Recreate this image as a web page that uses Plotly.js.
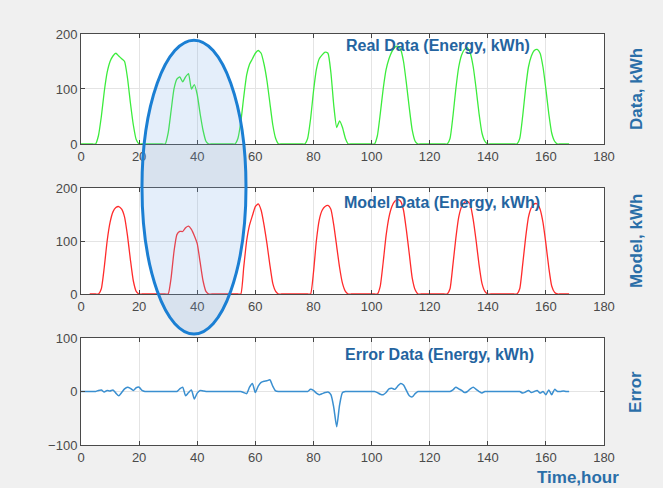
<!DOCTYPE html>
<html>
<head>
<meta charset="utf-8">
<script src="https://cdn.plot.ly/plotly-3.0.1.min.js"></script>
<style>html,body{margin:0;padding:0;background:#f0f0f0;}#chart{width:663px;height:488px;}</style>
</head>
<body>
<div id="chart"></div>
<script>
// Real data (green), hourly 0..168
const realData = [
  0,0,0,0,0,0,
  15,50,95,130,150,160,165,160,155,150,120,75,35,8,0,
  0,0,0,0,0,0,0,0,
  0,20,60,100,118,122,113,122,128,100,108,90,55,25,5,0,
  0,0,0,0,0,0,0,0,
  0,10,40,85,125,145,155,165,170,165,145,115,75,35,10,0,
  0,0,0,0,0,0,0,0,
  0,10,45,95,135,155,162,167,165,130,70,30,42,30,10,0,
  0,0,0,0,0,0,0,0,
  0,15,55,100,135,155,168,176,178,172,150,110,65,25,5,0,
  0,0,0,0,0,0,0,0,0,
  0,10,50,100,140,162,172,175,165,140,100,55,20,5,0,
  0,0,0,0,0,0,0,0,0,
  0,10,50,100,140,160,170,172,165,140,100,55,20,5,0,
  0,0,0,0
];
// Model data (red), hourly 0..168
const modelData = [
  null,null,null,
  0,0,0,0,
  10,50,100,135,155,163,165,160,145,110,65,25,5,0,
  0,0,0,0,0,0,0,0,0,0,
  30,80,112,118,118,125,128,122,110,95,60,25,5,0,
  0,0,0,0,0,0,0,0,0,0,0,
  50,100,130,148,165,170,158,130,95,55,20,5,0,
  0,0,0,0,0,0,0,0,0,0,0,
  40,100,140,158,165,167,160,130,90,50,20,5,0,
  0,0,0,0,0,0,0,0,0,0,
  15,60,110,145,165,175,178,175,158,120,75,30,8,0,
  0,0,0,0,0,0,0,0,0,0,
  10,55,105,145,165,173,175,168,140,100,55,20,5,0,
  0,0,0,0,0,0,0,0,0,0,
  10,55,105,145,163,170,170,160,135,95,50,15,3,0,
  0,0,0,0
];
// Error data (blue), hourly 0..168
const errorData = [
  0,0,0,0,0,0,
  2,3,-1,2,1,3,-3,-8,-2,5,8,6,2,7,8,2,
  0,0,0,0,0,0,0,0,0,0,0,0,
  5,8,-8,-2,3,-14,-3,2,1,
  0,0,0,0,0,0,0,0,0,0,0,0,0,
  -2,-4,8,15,-2,10,17,19,20,22,10,1,
  0,0,0,0,0,0,0,0,0,0,0,
  4,2,-3,-6,-4,-2,-1,-6,-30,-66,-25,-2,
  0,0,0,0,0,0,0,0,0,0,0,
  -2,-5,-6,-2,5,6,4,10,15,12,2,-8,-10,-4,0,
  0,0,0,0,0,0,0,0,0,0,0,
  3,8,5,2,-2,0,5,8,4,0,-3,0,
  0,0,0,0,0,0,0,0,0,0,0,0,
  -3,-1,2,-2,0,2,-3,0,-6,3,-6,4,0,0,1,0,0
];
const hours = realData.map((_, i) => i);
const xTicks = [0,20,40,60,80,100,120,140,160,180];
const yTicksTop = [0,100,200];
const yTicksErr = [-100,0,100];
const panelLabels = ['Real Data (Energy, kWh)','Model Data (Energy, kWh)','Error Data (Energy, kWh)'];
const axisTitles = ['Data, kWh','Model, kWh','Error'];
const xTitle = 'Time,hour';

const tickFont = {family:'Liberation Sans, Arial, sans-serif', size:13, color:'#4a4a4a'};
const blue = '#2464a0';

function xax(anchor){
  return {anchor:anchor, range:[0,180], tickvals:xTicks, ticks:'inside', ticklen:4,
    tickcolor:'#444', showline:true, linecolor:'#4a4a4a', linewidth:1, mirror:'ticks',
    showgrid:true, gridcolor:'#e4e4e4', zeroline:false, tickfont:tickFont, fixedrange:true};
}
function yax(anchor, dom, rng, tv){
  return {anchor:anchor, domain:dom, range:rng, tickvals:tv, ticks:'inside', ticklen:4,
    tickcolor:'#444', showline:true, linecolor:'#4a4a4a', linewidth:1, mirror:'ticks',
    showgrid:true, gridcolor:'#e4e4e4', zeroline:false, tickfont:tickFont, fixedrange:true};
}

const traces = [
  {x:hours, y:realData, type:'scatter', mode:'lines', line:{color:'#3cec3c', width:1.3, shape:'spline', smoothing:0.5}, xaxis:'x', yaxis:'y', hoverinfo:'skip'},
  {x:hours, y:modelData, type:'scatter', mode:'lines', line:{color:'#ff2b2b', width:1.3, shape:'spline', smoothing:0.5}, xaxis:'x2', yaxis:'y2', hoverinfo:'skip'},
  {x:hours, y:errorData, type:'scatter', mode:'lines', line:{color:'#3a8fd0', width:1.5, shape:'spline', smoothing:0.6}, xaxis:'x3', yaxis:'y3', hoverinfo:'skip'}
];

const annFont = {family:'Liberation Sans, Arial, sans-serif', size:16, color:blue, weight:'bold'};
const titleFont = {family:'Liberation Sans, Arial, sans-serif', size:17, color:'#2a6ea8', weight:'bold'};

const layout = {
  width:663, height:488,
  margin:{l:81, r:59, t:34, b:43},
  paper_bgcolor:'#f0f0f0', plot_bgcolor:'#ffffff',
  showlegend:false,
  xaxis: xax('y'),
  xaxis2: xax('y2'),
  xaxis3: xax('y3'),
  yaxis: yax('x', [0.7324,1], [0,200], yTicksTop),
  yaxis2: yax('x2', [0.3674,0.6253], [0,200], yTicksTop),
  yaxis3: yax('x3', [0,0.2603], [-100,100], yTicksErr),
  annotations:[
    {text:panelLabels[0], xref:'paper', yref:'paper', x:0.683, y:0.973, xanchor:'center', yanchor:'middle', showarrow:false, font:annFont},
    {text:panelLabels[1], xref:'paper', yref:'paper', x:0.690, y:0.589, xanchor:'center', yanchor:'middle', showarrow:false, font:annFont},
    {text:panelLabels[2], xref:'paper', yref:'paper', x:0.686, y:0.221, xanchor:'center', yanchor:'middle', showarrow:false, font:annFont},
    {text:axisTitles[0], xref:'paper', yref:'paper', x:1.061, y:0.866, textangle:-90, xanchor:'center', yanchor:'middle', showarrow:false, font:titleFont},
    {text:axisTitles[1], xref:'paper', yref:'paper', x:1.061, y:0.496, textangle:-90, xanchor:'center', yanchor:'middle', showarrow:false, font:titleFont},
    {text:axisTitles[2], xref:'paper', yref:'paper', x:1.061, y:0.129, textangle:-90, xanchor:'center', yanchor:'middle', showarrow:false, font:titleFont},
    {text:xTitle, xref:'paper', yref:'paper', x:0.950, y:-0.080, xanchor:'center', yanchor:'middle', showarrow:false, font:titleFont}
  ],
  shapes:[
    {type:'circle', xref:'paper', yref:'paper', x0:0.1166, x1:0.3155, y0:0.270, y1:0.985,
     line:{color:'#1b7fd3', width:3}, fillcolor:'rgba(120,172,228,0.2)', layer:'above'}
  ]
};

Plotly.newPlot('chart', traces, layout, {staticPlot:true, displayModeBar:false});
</script>
</body>
</html>
